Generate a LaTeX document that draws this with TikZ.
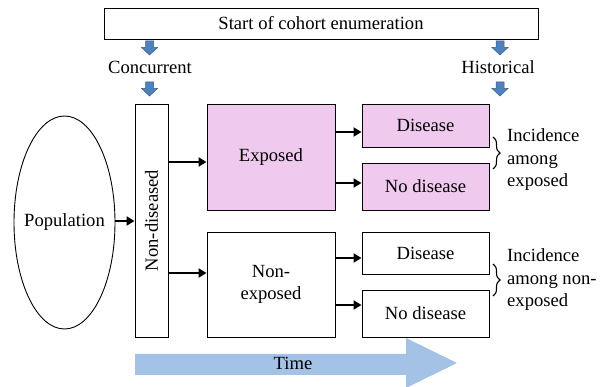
\documentclass[tikz,border=0pt]{standalone}
\usepackage{fontspec}
\setmainfont{Liberation Serif}
\usetikzlibrary{shapes.geometric,decorations.pathreplacing,arrows.meta}
\definecolor{pinkfill}{HTML}{EFC9EE}
\definecolor{bluearr}{HTML}{4F81BD}
\definecolor{bluedark}{HTML}{385D8A}
\definecolor{timeblue}{HTML}{A4C2E6}
\begin{document}
\begin{tikzpicture}[x=1pt,y=-1pt,
  every node/.style={font=\rmfamily\fontsize{18.6}{22.5}\selectfont, inner sep=0pt},
  box/.style={draw, line width=0.9pt, rectangle},
  pinkbox/.style={box, fill=pinkfill},
  arr/.style={line width=2.6pt, -{Triangle[length=8pt,width=9pt]}},
  bracestyle/.style={line width=1.1pt, decorate, decoration={brace, amplitude=7pt}},
  bdown/.pic={\draw[fill=bluearr, draw=bluedark, line width=0.5pt]
     (-4,0) -- (4,0) -- (4,6.5) -- (8,6.5) -- (0,14) -- (-8,6.5) -- (-4,6.5) -- cycle;}
]
\useasboundingbox (0,0) rectangle (600,387);
% top box
\node[box, minimum width=434pt, minimum height=31pt] (start) at (321,23.5) {Start of cohort enumeration};
\node (conc) at (150,67) {Concurrent};
\node (hist) at (498,67) {Historical};
\pic at (149.5,41) {bdown};
\pic at (149.5,82) {bdown};
\pic at (500,41) {bdown};
\pic at (500,82) {bdown};
% main nodes
\node[draw, line width=0.9pt, ellipse, minimum width=101pt, minimum height=213pt] (pop) at (64.5,222.5) {};
\node (popt) at (pop.center) {Population};
\node[box, minimum width=33pt, minimum height=233pt] (nd) at (151.5,220.5) {};
\node[rotate=90] (ndt) at (nd.center) {Non-diseased};
\node[pinkbox, minimum width=128pt, minimum height=106pt] (ex) at (271,157) {Exposed};
\node[box, minimum width=128pt, minimum height=105pt, align=center] (nex) at (271,284.5) {Non-\\exposed};
\node[pinkbox, minimum width=127pt, minimum height=43pt] (d1) at (425.5,125.5) {Disease};
\node[pinkbox, minimum width=127pt, minimum height=47pt] (n1) at (425.5,186.5) {No disease};
\node[box, minimum width=127pt, minimum height=42pt] (d2) at (425.5,253) {Disease};
\node[box, minimum width=127pt, minimum height=47pt] (n2) at (425.5,313.5) {No disease};
% arrows
\draw[arr] (pop.east |- 0,221) -- (nd.west |- 0,221);
\draw[arr] (nd.east |- 0,162) -- (ex.west |- 0,162);
\draw[arr] (nd.east |- 0,273) -- (nex.west |- 0,273);
\draw[arr] (ex.east |- 0,132) -- (d1.west |- 0,132);
\draw[arr] (ex.east |- 0,183) -- (n1.west |- 0,183);
\draw[arr] (nex.east |- 0,258) -- (d2.west |- 0,258);
\draw[arr] (nex.east |- 0,305) -- (n2.west |- 0,305);
% braces
\coordinate (b1t) at (493,137);
\coordinate (b1b) at (493,169);
\coordinate (b2t) at (493,264);
\coordinate (b2b) at (493,296);
\draw[bracestyle] (b1t) -- (b1b);
\draw[bracestyle] (b2t) -- (b2b);
\node[anchor=west, align=left] (inc1) at (507,160) {Incidence\\among\\exposed};
\node[anchor=west, align=left] (inc2) at (507,280) {Incidence\\among non-\\exposed};
% time arrow
\fill[timeblue] (135,354) -- (406,354) -- (406,338) -- (457,363) -- (406,388) -- (406,375) -- (135,375) -- cycle;
\node (time) at (293,363) {Time};
\end{tikzpicture}
\end{document}
